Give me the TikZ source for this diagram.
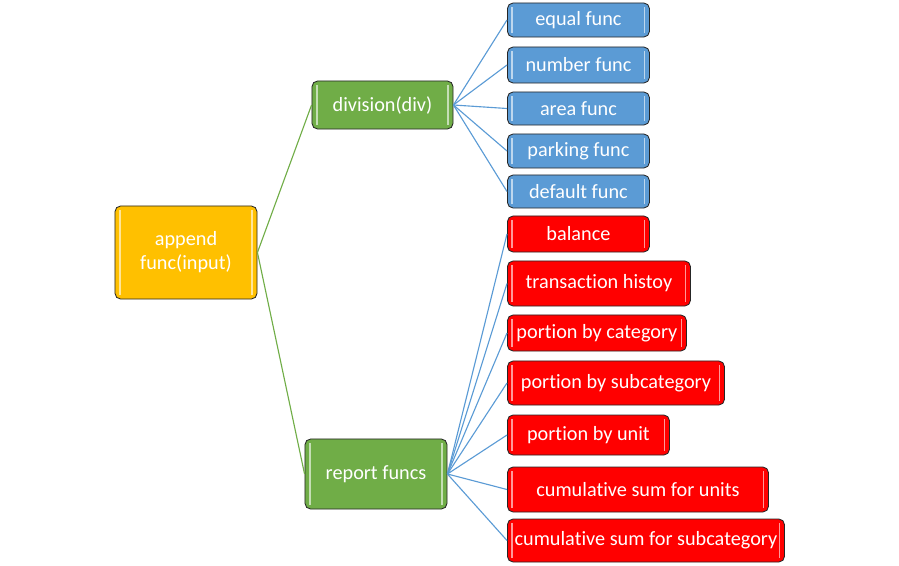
\documentclass[tikz,border=0pt]{standalone}
\usepackage{fontspec}
\setmainfont[Ligatures=NoCommon]{Carlito}
\usetikzlibrary{positioning}
\definecolor{rootfill}{HTML}{FFC000}
\definecolor{branchfill}{HTML}{70AD47}
\definecolor{leaffill}{HTML}{5B9BD5}
\definecolor{reportfill}{HTML}{FF0000}
\tikzset{
  box/.style={draw=black!85,line width=0.6pt,rounded corners=4pt,text=white,
    font=\fontsize{14.4}{17}\selectfont,inner sep=1pt,align=center,
    path picture={\draw[white,opacity=0.6,line width=1.3pt]
      ([xshift=3.5pt,yshift=3pt]path picture bounding box.south west) --
      ([xshift=3.5pt,yshift=-3pt]path picture bounding box.north west)
      ([xshift=-3.5pt,yshift=3pt]path picture bounding box.south east) --
      ([xshift=-3.5pt,yshift=-3pt]path picture bounding box.north east);}},
  rootbox/.style={box,fill=rootfill},
  branchbox/.style={box,fill=branchfill},
  leafbox/.style={box,fill=leaffill,anchor=west,minimum width=3.55cm},
  repbox/.style={box,fill=reportfill,anchor=west},
  trunk/.style={draw=branchfill,line width=0.8pt},
  twig/.style={draw=leaffill,line width=0.8pt},
}
\begin{document}
\begin{tikzpicture}[x=0.025cm,y=-0.025cm]
  \useasboundingbox (0,0) rectangle (899,565);
  % root and the two branches
  \node[rootbox,minimum width=3.55cm,minimum height=2.325cm] (root) at (186,252.5) {append\\func(input)};
  \node[branchbox,minimum width=3.525cm,minimum height=1.2cm] (div) at (382.5,105) {division(div)};
  \node[branchbox,minimum width=3.55cm,minimum height=1.75cm] (rep) at (376,474) {report funcs};
  % division leaves
  \node[leafbox,minimum height=0.85cm] (equal) at (507,20) {equal func};
  \node[leafbox,minimum height=0.9cm] (number) at (507,65) {number func};
  \node[leafbox,minimum height=0.825cm] (area) at (507,108.5) {area func};
  \node[leafbox,minimum height=0.85cm] (parking) at (507,151) {parking func};
  \node[leafbox,minimum height=0.825cm] (default) at (507,191.5) {default func};
  % report leaves
  \node[repbox,minimum width=3.55cm,minimum height=0.9cm] (balance) at (507,234) {balance};
  \node[repbox,minimum width=4.575cm,minimum height=1.125cm] (history) at (507,283.5) {transaction histoy};
  \node[repbox,minimum width=4.475cm,minimum height=0.9cm] (bycat) at (507,333) {portion by category};
  \node[repbox,minimum width=5.425cm,minimum height=1.1cm] (bysubcat) at (507,383) {portion by subcategory};
  \node[repbox,minimum width=4.05cm,minimum height=1cm] (byunit) at (507,435) {portion by unit};
  \node[repbox,minimum width=6.525cm,minimum height=1.125cm] (cumunit) at (507,489.5) {cumulative sum for units};
  \node[repbox,minimum width=6.925cm,minimum height=1.075cm] (cumsubcat) at (507,540.5) {cumulative sum for subcategory};
  % connectors
  \draw[trunk] (root.east) -- (div.west);
  \draw[trunk] (root.east) -- (rep.west);
  \foreach \n in {equal,number,area,parking,default}
    \draw[twig] (div.east) -- (\n.west);
  \foreach \n in {balance,history,bycat,bysubcat,byunit,cumunit,cumsubcat}
    \draw[twig] (rep.east) -- (\n.west);
\end{tikzpicture}
\end{document}
